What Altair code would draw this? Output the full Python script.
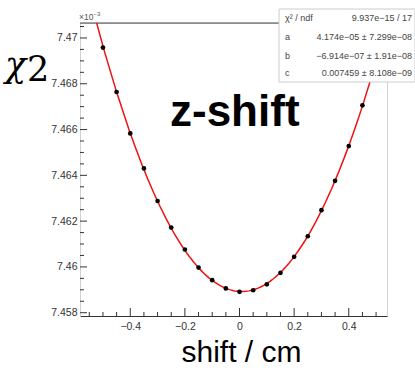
import altair as alt
import pandas as pd

# ---- data (values in units of 1e-3) ----
shift = [-0.5, -0.45, -0.4, -0.35, -0.3, -0.25, -0.2, -0.15, -0.1, -0.05,
         0.0, 0.05, 0.1, 0.15, 0.2, 0.25, 0.3, 0.35, 0.4, 0.45]
chi2 = [7.46958, 7.46764, 7.46583, 7.46430, 7.46288, 7.46172, 7.46076, 7.45997,
        7.45942, 7.45906, 7.45891, 7.45898, 7.45924, 7.45974, 7.46044, 7.46134,
        7.46248, 7.46376, 7.46528, 7.46706]

x_domain = [-0.584, 0.540]
y_domain = [7.457856, 7.470654]

x_labels = [-0.4, -0.2, 0.0, 0.2, 0.4]
x_minor = [-0.55, -0.5, -0.45, -0.35, -0.3, -0.25, -0.15, -0.1, -0.05,
           0.05, 0.1, 0.15, 0.25, 0.3, 0.35, 0.45, 0.5]
y_labels = [7.458, 7.46, 7.462, 7.464, 7.466, 7.468, 7.47]
y_minor = [7.4585, 7.459, 7.4595, 7.4605, 7.461, 7.4615, 7.4625, 7.463, 7.4635,
           7.4645, 7.465, 7.4655, 7.4665, 7.467, 7.4675, 7.4685, 7.469, 7.4695,
           7.4705]

stat_names = ["χ² / ndf", "a", "b", "c"]
stat_values = ["9.937e−15 / 17", "4.174e−05 ± 7.299e−08",
               "−6.914e−07 ± 1.91e−08", "0.007459 ± 8.108e−09"]

title_text = "z-shift"
x_title = "shift / cm"
y_title_sym = "χ"
y_title_num = "2"
exp_text = "×10"
exp_power = "−3"

W, H = 307, 293
FONT = "Liberation Sans"
SERIF = "DejaVu Serif"

df = pd.DataFrame({"x": shift, "y": chi2})

x_axis = alt.Axis(values=x_labels, format=".1~f", ticks=False, grid=False,
                  domainColor="#333333", labelFont=FONT, labelFontSize=10.5,
                  labelColor="#333333", labelPadding=5, title=x_title,
                  titleFont=FONT, titleFontSize=30, titleFontWeight="normal",
                  titleColor="#000000", titleX=161, titleY=45, titleAlign="center",
                  titleBaseline="alphabetic")
y_axis = alt.Axis(values=y_labels, format=".3~f", ticks=False, grid=False,
                  domainColor="#d0d0d0", labelFont=FONT, labelFontSize=10.5,
                  labelColor="#333333", labelPadding=3, title=None)


def X():
    return alt.X("x:Q", scale=alt.Scale(domain=x_domain, nice=False, zero=False),
                 axis=x_axis)


def Y():
    return alt.Y("y:Q", scale=alt.Scale(domain=y_domain, nice=False, zero=False),
                 axis=y_axis)


one = pd.DataFrame({"k": [0]})

top_line = alt.Chart(one).mark_rule(color="#444444", strokeWidth=1).encode(
    x=alt.value(0), x2=alt.value(W), y=alt.value(0))

curve = alt.Chart(df).transform_regression(
    "x", "y", method="poly", order=2, extent=x_domain
).mark_line(color="#ee1111", strokeWidth=1.5, clip=True).encode(x=X(), y=Y())

points = alt.Chart(df).mark_point(filled=True, color="#000000", size=22,
                                  opacity=1).encode(x=X(), y=Y())

xt_major = alt.Chart(pd.DataFrame({"x": x_labels})).mark_rule(
    color="#333333").encode(x=X(), y=alt.value(H), y2=alt.value(H - 8))
xt_minor = alt.Chart(pd.DataFrame({"x": x_minor})).mark_rule(
    color="#333333").encode(x=X(), y=alt.value(H), y2=alt.value(H - 4))
yt_major = alt.Chart(pd.DataFrame({"y": y_labels})).mark_rule(
    color="#333333").encode(y=Y(), x=alt.value(0), x2=alt.value(7))
yt_minor = alt.Chart(pd.DataFrame({"y": y_minor})).mark_rule(
    color="#333333").encode(y=Y(), x=alt.value(0), x2=alt.value(4))

ytitle1 = alt.Chart(one).mark_text(
    text=y_title_sym, font=SERIF, fontSize=35, fontStyle="italic",
    color="#000000", align="left", baseline="alphabetic"
).encode(x=alt.value(-75), y=alt.value(54))
ytitle2 = alt.Chart(one).mark_text(
    text=y_title_num, font=SERIF, fontSize=35, color="#000000",
    align="left", baseline="alphabetic"
).encode(x=alt.value(-53), y=alt.value(58))

title_mark = alt.Chart(one).mark_text(
    text=title_text, font=FONT, fontSize=44, fontWeight="bold", color="#000000",
    align="left", baseline="alphabetic").encode(x=alt.value(90), y=alt.value(103))

exp1 = alt.Chart(one).mark_text(
    text=exp_text, font=FONT, fontSize=8.5, color="#555555", align="left",
    baseline="alphabetic").encode(x=alt.value(-1), y=alt.value(-3))
exp2 = alt.Chart(one).mark_text(
    text=exp_power, font=FONT, fontSize=6, color="#555555", align="left",
    baseline="alphabetic").encode(x=alt.value(13.5), y=alt.value(-7))

box = alt.Chart(one).mark_rect(fill="#ffffff", stroke="#cccccc",
                               strokeWidth=1).encode(
    x=alt.value(199), x2=alt.value(335), y=alt.value(-14), y2=alt.value(59))

rows = []
row_y = [-5, 14, 32.5, 50]
for name, val, ry in zip(stat_names, stat_values, row_y):
    rows.append(alt.Chart(one).mark_text(
        text=name, font=FONT, fontSize=9, color="#444444", align="left",
        baseline="middle").encode(x=alt.value(205), y=alt.value(ry)))
    rows.append(alt.Chart(one).mark_text(
        text=val, font=FONT, fontSize=9, color="#444444", align="right",
        baseline="middle").encode(x=alt.value(332), y=alt.value(ry)))

chart = alt.layer(
    top_line, curve, points, xt_major, xt_minor, yt_major, yt_minor,
    ytitle1, ytitle2, title_mark, exp1, exp2, box, *rows
).properties(
    width=W, height=H,
    padding={"left": 80, "top": 23, "right": 28, "bottom": 52},
    autosize=alt.AutoSizeParams(type="none"),
    background="#ffffff",
).configure_view(stroke="#d4d4d4")

chart.save("out.html", embed_options={"renderer": "svg", "actions": False})
